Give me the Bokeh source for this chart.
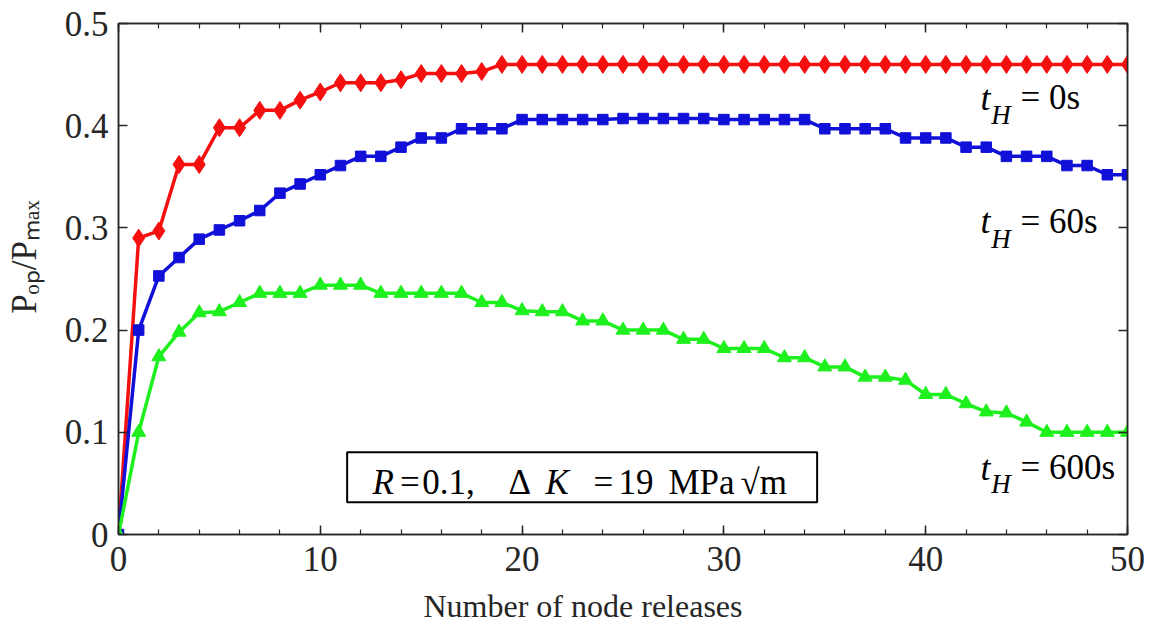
import math
from bokeh.plotting import figure
from bokeh.models import (Label, BoxAnnotation, LinearAxis, Range1d, FixedTicker,
                          SingleIntervalTicker, CustomJSTickFormatter)
from bokeh.embed import file_html
from bokeh.resources import INLINE

# ---------------- data ----------------
releases = list(range(0, 51))

th_0s = [0, 0.29, 0.297, 0.362, 0.362, 0.398, 0.398, 0.415, 0.415, 0.425,
         0.433, 0.442, 0.442, 0.442, 0.445, 0.451, 0.451, 0.451, 0.453, 0.46,
         0.46, 0.46, 0.46, 0.46, 0.46, 0.46, 0.46, 0.46, 0.46, 0.46,
         0.46, 0.46, 0.46, 0.46, 0.46, 0.46, 0.46, 0.46, 0.46, 0.46,
         0.46, 0.46, 0.46, 0.46, 0.46, 0.46, 0.46, 0.46, 0.46, 0.46, 0.46]

th_60s = [0, 0.2, 0.253, 0.271, 0.289, 0.298, 0.307, 0.317, 0.334, 0.343,
          0.352, 0.361, 0.37, 0.37, 0.379, 0.388, 0.388, 0.397, 0.397, 0.397,
          0.406, 0.406, 0.406, 0.406, 0.406, 0.407, 0.407, 0.407, 0.407, 0.407,
          0.406, 0.406, 0.406, 0.406, 0.406, 0.397, 0.397, 0.397, 0.397, 0.388,
          0.388, 0.388, 0.379, 0.379, 0.37, 0.37, 0.37, 0.361, 0.361, 0.352, 0.352]

th_600s = [0, 0.1, 0.174, 0.198, 0.217, 0.218, 0.227, 0.236, 0.236, 0.236,
           0.244, 0.244, 0.244, 0.236, 0.236, 0.236, 0.236, 0.236, 0.227, 0.227,
           0.219, 0.218, 0.218, 0.209, 0.209, 0.2, 0.2, 0.2, 0.191, 0.191,
           0.182, 0.182, 0.182, 0.173, 0.173, 0.164, 0.164, 0.154, 0.154, 0.151,
           0.137, 0.137, 0.128, 0.12, 0.119, 0.11, 0.1, 0.1, 0.1, 0.1, 0.1]

y_ticks = [0, 0.1, 0.2, 0.3, 0.4, 0.5]
x_title = "Number of node releases"
y_title = "P\u2092\u209a/P\u2098\u2090\u2093"

FONT = "Liberation Serif"
AX = "#262626"
RED = "#f51010"
BLUE = "#1010d8"
GREEN = "#1ef01e"
NB = "\u00a0"

p = figure(frame_width=1009, frame_height=511, output_backend="svg",
           toolbar_location=None, x_range=Range1d(0, 50), y_range=Range1d(0, 0.5),
           min_border_left=118, min_border_right=24, min_border_top=23,
           min_border_bottom=89)
p.grid.visible = False
p.outline_line_color = AX
p.outline_line_width = 1.5
p.background_fill_color = "white"
p.border_fill_color = "white"

fmt = CustomJSTickFormatter(code="return Number(tick.toFixed(2)).toString();")
blank = CustomJSTickFormatter(code="return '';")

def style(ax):
    ax.axis_line_color = AX
    ax.axis_line_width = 1.5
    ax.major_tick_line_color = AX
    ax.minor_tick_line_color = AX
    ax.major_tick_line_width = 1.5
    ax.minor_tick_line_width = 1.2
    ax.major_tick_in = 9
    ax.major_tick_out = 0
    ax.minor_tick_in = 5
    ax.minor_tick_out = 0
    ax.major_label_text_font = FONT
    ax.major_label_text_color = AX
    ax.major_label_text_font_size = "35px"
    ax.axis_label_text_font = FONT
    ax.axis_label_text_font_style = "normal"
    ax.axis_label_text_color = AX
    ax.axis_label_text_font_size = "35px"

p.xaxis.ticker = SingleIntervalTicker(interval=10, num_minor_ticks=5)
p.yaxis.ticker = FixedTicker(ticks=y_ticks)
p.xaxis.formatter = fmt
p.yaxis.formatter = fmt
style(p.xaxis[0])
style(p.yaxis[0])
p.yaxis.minor_tick_in = 0
p.xaxis.major_label_standoff = 12
p.yaxis.major_label_standoff = 10
p.xaxis.axis_label = x_title + NB * 10
p.xaxis.axis_label_text_font_size = "32px"
p.xaxis.axis_label_standoff = 14
p.yaxis.axis_label = NB * 5 + y_title
p.yaxis.axis_label_standoff = 18

top = LinearAxis(ticker=SingleIntervalTicker(interval=10, num_minor_ticks=5), formatter=blank)
right = LinearAxis(ticker=FixedTicker(ticks=y_ticks), formatter=blank)
style(top)
style(right)
right.minor_tick_in = 0
top.major_label_standoff = 0
right.major_label_standoff = 0
p.add_layout(top, "above")
p.add_layout(right, "right")

# ---------------- series ----------------
p.line(releases, th_0s, line_color=RED, line_width=3.5)
p.scatter(releases, th_0s, marker="diamond", size=18, fill_color=RED, line_color=RED)
p.line(releases, th_60s, line_color=BLUE, line_width=3.5)
p.scatter(releases, th_60s, marker="square", size=10.5, fill_color=BLUE, line_color=BLUE)
p.line(releases, th_600s, line_color=GREEN, line_width=3.5)
p.scatter(releases, th_600s, marker="triangle", size=14, fill_color=GREEN, line_color=GREEN)

# ---------------- annotations ----------------
def lab(x, y, text, size="35px", style="normal"):
    p.add_layout(Label(x=x, y=y, text=text, text_font=FONT, text_font_size=size,
                       text_font_style=style, text_color="black",
                       text_baseline="alphabetic", text_align="left"))

# curve labels
for base, sub, txt in [(0.4272, 0.4109, "= 0s"), (0.3066, 0.2887, "= 60s"),
                       (0.0655, 0.0492, "= 600s")]:
    lab(42.72, base, "t", "36px", "italic")
    lab(43.25, sub, "H", "27px", "italic")
    lab(44.70, base, txt, "35px")

# parameter box
p.add_layout(BoxAnnotation(left=11.33, right=34.62, bottom=0.0316, top=0.0805,
                           fill_color="white", fill_alpha=1.0,
                           line_color="black", line_alpha=1.0, line_width=2))
BASE = 0.0509
lab(12.59, BASE, "R", "35px", "italic")
lab(13.95, BASE, "=", "35px")
lab(15.05, BASE, "0.1,", "35px")
lab(19.33, BASE, "Δ", "35px")
lab(21.16, BASE, "K", "35px", "italic")
lab(23.54, BASE, "=", "35px")
lab(24.78, BASE, "19", "35px")
lab(27.25, BASE, "MPa", "35px")
lab(30.82, BASE, "√m", "35px")

open("out.html", "w").write(file_html(p, INLINE))
